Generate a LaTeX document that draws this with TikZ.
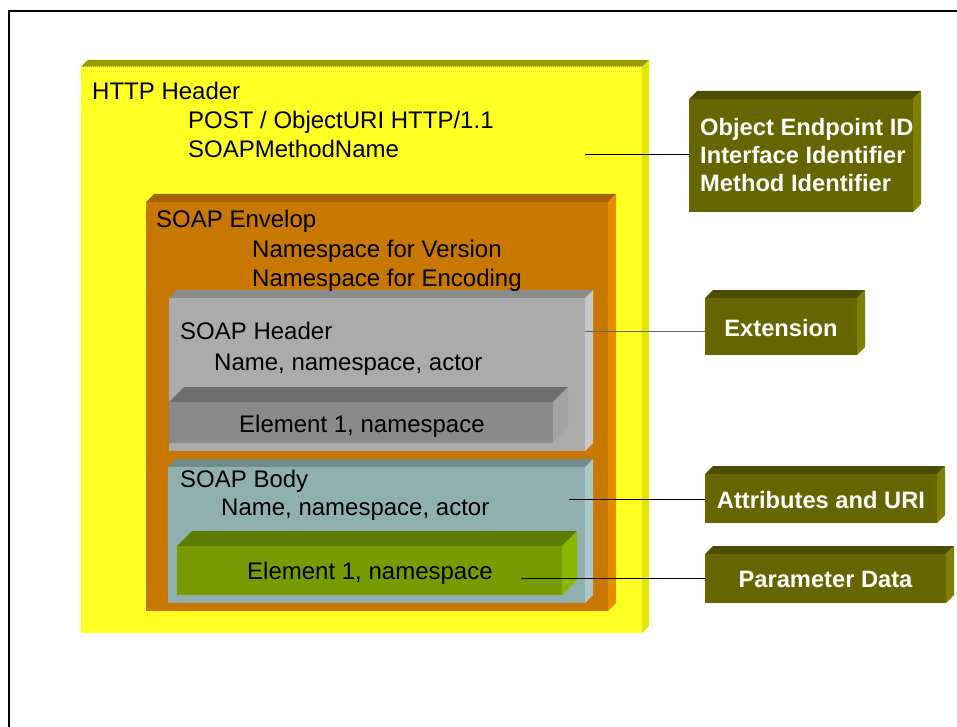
\documentclass[tikz,border=0pt]{standalone}
\usepackage{fontspec}
\setmainfont{Liberation Sans}
\usetikzlibrary{patterns}

% fine two-pixel checker used on the HTTP header slab
\pgfdeclarepatternformonly{fine checker}{\pgfpointorigin}{\pgfpoint{2pt}{2pt}}{\pgfpoint{2pt}{2pt}}{%
  \pgfpathrectangle{\pgfpointorigin}{\pgfpoint{1pt}{1pt}}%
  \pgfpathrectangle{\pgfpoint{1pt}{1pt}}{\pgfpoint{1pt}{1pt}}%
  \pgfusepath{fill}}

\definecolor{hdrYellow}{HTML}{FFFF00}
\definecolor{hdrPale}{HTML}{FFFF8C}
\definecolor{hdrTop}{HTML}{999900}
\definecolor{hdrSide}{HTML}{E5E500}
\definecolor{envFront}{HTML}{C87800}
\definecolor{envTop}{HTML}{A46200}
\definecolor{envSide}{HTML}{E68A00}
\definecolor{shFront}{HTML}{ABABAB}
\definecolor{shTop}{HTML}{8C8C8C}
\definecolor{shSide}{HTML}{C8C8C8}
\definecolor{elFront}{HTML}{8A8A8A}
\definecolor{elTop}{HTML}{6E6E6E}
\definecolor{elSide}{HTML}{A3A3A3}
\definecolor{bdFront}{HTML}{90B0B0}
\definecolor{bdTop}{HTML}{708C8C}
\definecolor{bdSide}{HTML}{A8C8CC}
\definecolor{grFront}{HTML}{789C00}
\definecolor{grTop}{HTML}{5C7C00}
\definecolor{grSide}{HTML}{88B800}
\definecolor{olFront}{HTML}{666600}
\definecolor{olTop}{HTML}{4D4D00}
\definecolor{olSide}{HTML}{808000}

% 3-D slab: #1 name, (#2,#3) front top-left, (#4,#5) front bottom-right,
% #6 depth, #7 front style, #8 top colour, #9 side colour
\newcommand\slab[9]{%
  \fill[#8] (#2,#3) -- (#2+#6,#3-#6) -- (#4+#6,#3-#6) -- (#4,#3) -- cycle;
  \fill[#9] (#4,#3) -- (#4+#6,#3-#6) -- (#4+#6,#5-#6) -- (#4,#5) -- cycle;
  \node[#7, draw=none, inner sep=0, outer sep=0, anchor=north west,
        minimum width={#4-#2}, minimum height={#5-#3}] (#1) at (#2,#3) {};%
}

\tikzset{
  lbl/.style={font=\fontsize{24}{29}\selectfont, inner sep=0, anchor=base west},
  tag/.style={font=\bfseries\fontsize{23.7}{28}\selectfont, text=white, inner sep=0},
  link/.style={line width=1pt, draw=black},
  hdrfill/.style={fill=hdrYellow, postaction={pattern=fine checker, pattern color=hdrPale}},
}

\begin{document}
\begin{tikzpicture}[x=1pt, y=-1pt]
\useasboundingbox (0,0) rectangle (957,727);
\fill[white] (0,0) rectangle (957,727);
\draw[line width=2pt] (960,11) -- (9,11) -- (9,730);

% nested message slabs
\slab{http}{81}{67}{642}{633}{7}{hdrfill}{hdrTop}{hdrSide}
\slab{env}{146}{202}{608}{611}{8}{fill=envFront}{envTop}{envSide}
\slab{shdr}{169}{298}{585}{451}{8}{fill=shFront}{shTop}{shSide}
\slab{shel}{169}{402}{553}{443}{15}{fill=elFront}{elTop}{elSide}
\slab{body}{168}{467}{585}{603}{8}{fill=bdFront}{bdTop}{bdSide}
\slab{bdel}{177}{546}{562}{595}{15}{fill=grFront}{grTop}{grSide}

% description tags
\slab{oid}{689}{99}{913}{212}{8}{fill=olFront}{olTop}{olSide}
\slab{ext}{705}{298}{857}{355}{8}{fill=olFront}{olTop}{olSide}
\slab{attr}{705}{474}{937}{523}{8}{fill=olFront}{olTop}{olSide}
\slab{param}{705}{554}{946}{603}{8}{fill=olFront}{olTop}{olSide}

% labels inside the slabs
\node[lbl] (tHttp) at (92,100) {HTTP Header};
\node[lbl] (tPost) at (188,129) {POST / ObjectURI HTTP/1.1};
\node[lbl] (tMeth) at (188,158) {SOAPMethodName};
\node[lbl] (tEnv) at (156,228) {SOAP Envelop};
\node[lbl] (tVer) at (252,257) {Namespace for Version};
\node[lbl] (tEnc) at (252,286) {Namespace for Encoding};
\node[lbl] (tShdr) at (180,339) {SOAP Header};
\node[lbl] (tShAttr) at (214,370) {Name, namespace, actor};
\node[lbl] (tShEl) at (239,432) {Element 1, namespace};
\node[lbl] (tBody) at (180,487) {SOAP Body};
\node[lbl] (tBdAttr) at (221,515) {Name, namespace, actor};
\node[lbl] (tBdEl) at (247,579) {Element 1, namespace};

% tag texts
\node[tag, anchor=base west] (tOid1) at (700,136) {Object Endpoint ID};
\node[tag, anchor=base west] (tOid2) at (700,164) {Interface Identifier};
\node[tag, anchor=base west] (tOid3) at (700,192) {Method Identifier};
\node[tag, anchor=base] (tExt) at ([yshift=-9.5pt]ext.center) {Extension};
\node[tag, anchor=base] (tAttr) at ([yshift=-9.5pt]attr.center) {Attributes and URI};
\node[tag, anchor=base] (tParam) at ([yshift=-8.5pt]param.center) {Parameter Data};

% connectors
\coordinate (c1) at (585,155);
\coordinate (c2) at (585,331);
\coordinate (c3) at (569,499);
\coordinate (c4) at (521,578);
\draw[link] (c1) -- (c1 -| oid.west);
\draw[link, draw=black!60] (c2) -- (c2 -| ext.west);
\draw[link] (c3) -- (c3 -| attr.west);
\draw[link] (c4) -- (c4 -| param.west);
\end{tikzpicture}
\end{document}
